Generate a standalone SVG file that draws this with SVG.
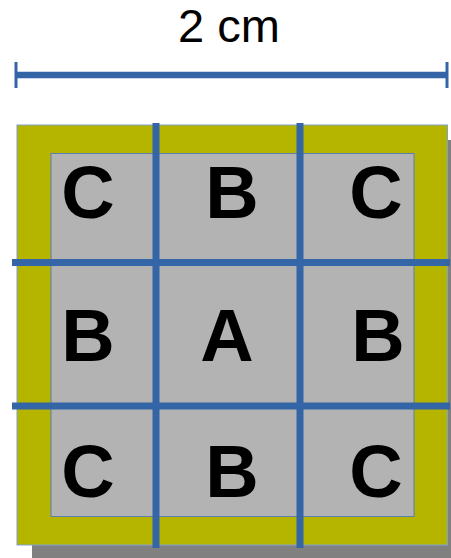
<svg xmlns="http://www.w3.org/2000/svg" width="451" height="558" viewBox="0 0 451 558">
<style>
.lbl{font-family:"Liberation Sans",Arial,sans-serif;font-weight:bold;font-size:74px;fill:#000;text-anchor:middle}
.grid{stroke:#3465a6;stroke-width:7;fill:none}
</style>
<rect width="451" height="558" fill="#fff"/>
<g id="scale">
<line x1="15" y1="75" x2="448" y2="75" stroke="#3465a6" stroke-width="6.5"/>
<line x1="16" y1="62" x2="16" y2="88" stroke="#3465a6" stroke-width="3"/>
<line x1="447" y1="62" x2="447" y2="88" stroke="#3465a6" stroke-width="3"/>
<text x="229" y="42" font-family="Liberation Sans,Arial,sans-serif" font-size="47" text-anchor="middle" fill="#000">2 cm</text>
</g>
<g id="board">
<rect x="32" y="140" width="419" height="418" fill="#808080"/>
<rect x="17" y="125" width="430.5" height="420" fill="#b5b500" stroke="#7f9fcf" stroke-width="1"/>
<rect x="51" y="153.5" width="363" height="363" fill="#b3b3b3" stroke="#5b7fae" stroke-width="1"/>
</g>
<g id="labels">
<text class="lbl" x="88" y="218">C</text>
<text class="lbl" x="232" y="218">B</text>
<text class="lbl" x="376" y="218">C</text>
<text class="lbl" x="88" y="361">B</text>
<text class="lbl" x="227" y="361">A</text>
<text class="lbl" x="378" y="361">B</text>
<text class="lbl" x="88" y="497">C</text>
<text class="lbl" x="232" y="497">B</text>
<text class="lbl" x="376" y="497">C</text>
</g>
<g id="connectors">
<line class="grid" x1="156" y1="123" x2="156" y2="548"/>
<line class="grid" x1="300" y1="123" x2="300" y2="548"/>
<line class="grid" x1="12" y1="262.5" x2="450" y2="262.5"/>
<line class="grid" x1="12" y1="406" x2="450" y2="406"/>
</g>
</svg>
